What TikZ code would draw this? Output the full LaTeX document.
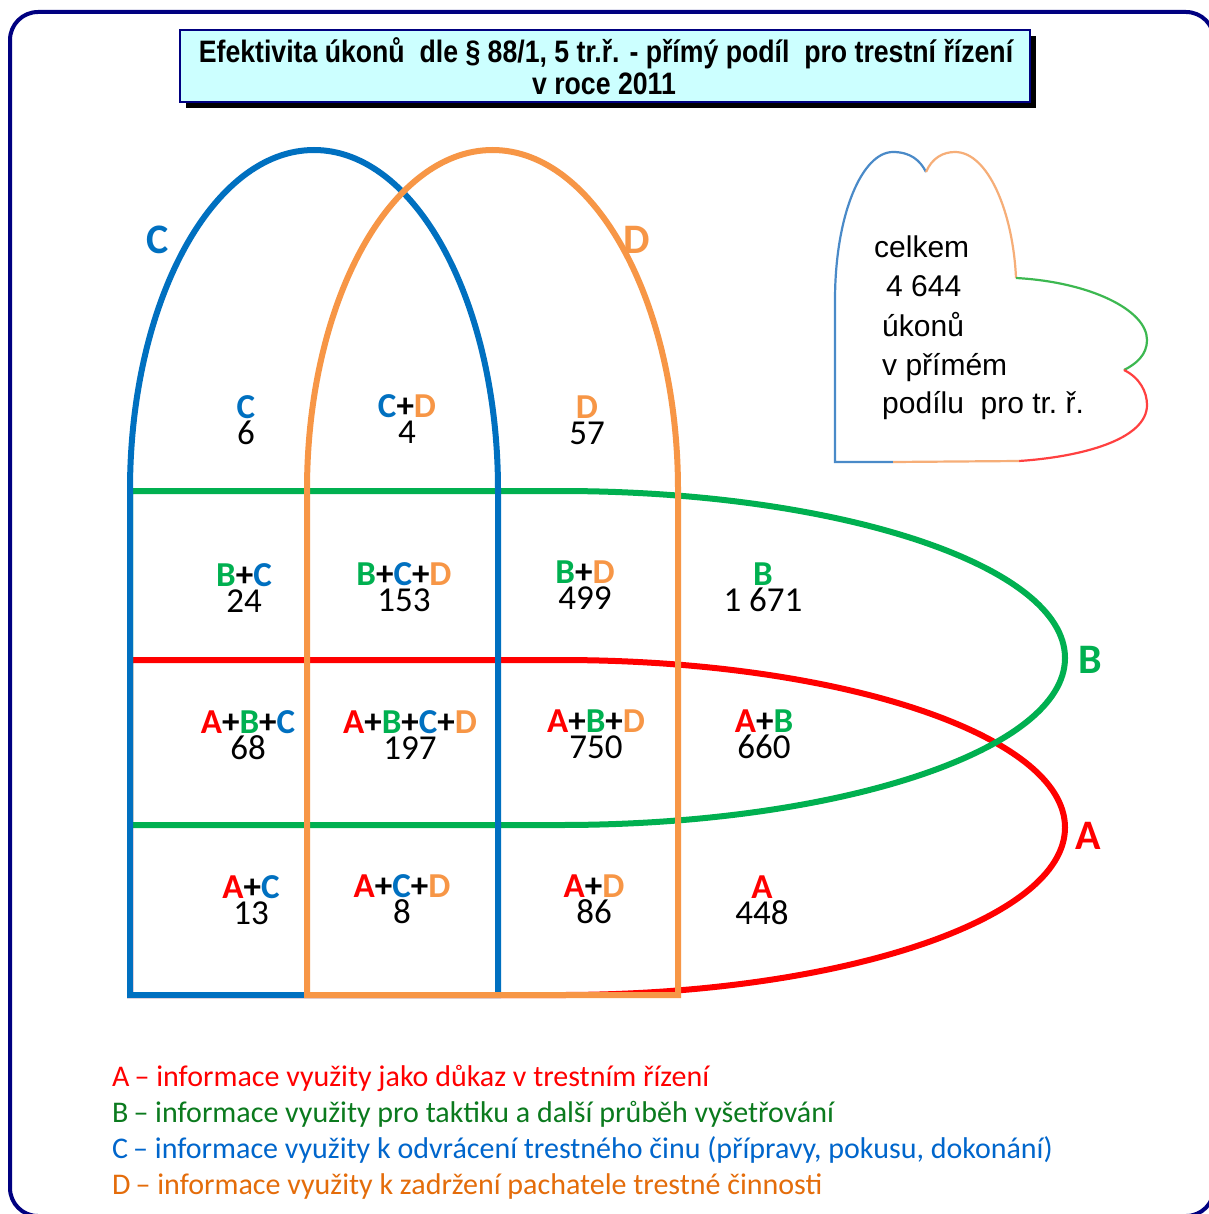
\documentclass[tikz,border=0pt]{standalone}
\usepackage{fontspec}
\setmainfont{Carlito}
\newfontfamily\titlefont[FakeStretch=0.86]{Liberation Sans}
\newfontfamily\heartfont{Liberation Sans}
\usetikzlibrary{shadows}
\definecolor{vA}{HTML}{FF0000}
\definecolor{vB}{HTML}{00B050}
\definecolor{vC}{HTML}{0070C0}
\definecolor{vD}{HTML}{F79646}
\definecolor{navy}{HTML}{000080}
\definecolor{titlefill}{HTML}{CCFFFF}
\definecolor{legB}{HTML}{0B7A1E}
\definecolor{legC}{HTML}{0066CC}
\definecolor{legD}{HTML}{E46C0A}
\definecolor{hB}{HTML}{4A8AC8}
\definecolor{hD}{HTML}{F6AE78}
\definecolor{hG}{HTML}{3CB850}
\definecolor{hR}{HTML}{FF4040}
\newcommand\lblA{\textcolor{vA}{A}}
\newcommand\lblB{\textcolor{vB}{B}}
\newcommand\lblC{\textcolor{vC}{C}}
\newcommand\lblD{\textcolor{vD}{D}}
\newcommand\regnum[1]{\\[-1pt]{\mdseries #1}}
\begin{document}
\begin{tikzpicture}[x=1pt,y=-1pt,
  venn/.style={line width=6pt, line join=miter},
  heartline/.style={line width=2.2pt},
  region/.style={anchor=center, inner sep=0pt, align=center, font=\fontsize{35}{27}\selectfont\bfseries},
  biglab/.style={anchor=center, inner sep=0pt, font=\fontsize{42}{42}\selectfont\bfseries},
  hearttext/.style={anchor=base west, inner sep=0pt, font=\heartfont\fontsize{30}{30}\selectfont},
  legend/.style={anchor=base west, inner sep=0pt, font=\fontsize{30}{30}\selectfont},
  titletext/.style={anchor=base, inner sep=0pt, font=\titlefont\fontsize{31}{31}\selectfont\bfseries}]
\useasboundingbox (0,0) rectangle (1208,1214);
\fill[white] (0,0) rectangle (1208,1214);
% outer frame
\draw[navy, line width=4pt, rounded corners=28pt] (10,12) rectangle (1214,1216);
% title
\node[draw=navy, line width=2pt, fill=titlefill, minimum width=850pt, minimum height=72pt,
      drop shadow={shadow xshift=6pt, shadow yshift=-6pt, fill=black, opacity=1},
      inner sep=0pt] (title) at (605,66) {};
\node[titletext] (title1) at (606,63)
  {Efektivita úkonů\ \ dle § 88/1, 5 tr.ř. - přímý podíl\ \ pro trestní řízení};
\node[titletext] (title2) at (604,95) {v roce 2011};
% Venn shapes
\draw[venn, vA] (130,660) -- (560,660) arc[start angle=90, end angle=-90, x radius=505pt, y radius=167.5pt] -- (130,995) -- cycle;
\draw[venn, vB] (130,491) -- (560,491) arc[start angle=90, end angle=-90, x radius=505pt, y radius=167pt] -- (130,825) -- cycle;
\draw[venn, vC] (130,995) -- (130,490) arc[start angle=180, end angle=0, x radius=184pt, y radius=340pt] -- (498,995) -- cycle;
\draw[venn, vD] (307,995) -- (307,490) arc[start angle=180, end angle=0, x radius=185.5pt, y radius=340pt] -- (678,995) -- cycle;
% big labels
\node[biglab, vC] (bigC) at (158,240) {C};
\node[biglab, vD] (bigD) at (637,240) {D};
\node[biglab, vB] (bigB) at (1090,660) {B};
\node[biglab, vA] (bigA) at (1088,836) {A};
% region labels
\node[region] (rC) at (246,420) {\lblC\regnum{6}};
\node[region] (rCD) at (407,419) {\lblC+\lblD\regnum{4}};
\node[region] (rD) at (587,420) {\lblD\regnum{57}};
\node[region] (rBC) at (244,588) {\lblB+\lblC\regnum{24}};
\node[region] (rBCD) at (404,587) {\lblB+\lblC+\lblD\regnum{153}};
\node[region] (rBD) at (585,585) {\lblB+\lblD\regnum{499}};
\node[region] (rB) at (763,587) {\lblB\regnum{1 671}};
\node[region] (rABC) at (248,735) {\lblA+\lblB+\lblC\regnum{68}};
\node[region] (rABCD) at (410,735) {\lblA+\lblB+\lblC+\lblD\regnum{197}};
\node[region] (rABD) at (596,734) {\lblA+\lblB+\lblD\regnum{750}};
\node[region] (rAB) at (764,734) {\lblA+\lblB\regnum{660}};
\node[region] (rAC) at (251,900) {\lblA+\lblC\regnum{13}};
\node[region] (rACD) at (402,899) {\lblA+\lblC+\lblD\regnum{8}};
\node[region] (rAD) at (594,899) {\lblA+\lblD\regnum{86}};
\node[region] (rA) at (762,900) {\lblA\regnum{448}};
% heart
\draw[heartline, hB] (893,462) -- (835,462) -- (835,300) .. controls (835,215) and (862,152) .. (893,152) .. controls (910,152) and (920,160) .. (926,172);
\draw[heartline, hD] (926,172) .. controls (932,158) and (943,152) .. (955,152) .. controls (988,152) and (1013,212) .. (1016,278);
\draw[heartline, hG] (1016,278) .. controls (1090,282) and (1147,310) .. (1147,340) .. controls (1147,355) and (1136,364) .. (1124,370);
\draw[heartline, hR] (1124,370) .. controls (1140,378) and (1147,392) .. (1147,405) .. controls (1147,440) and (1080,457) .. (1019,461);
\draw[heartline, hD] (1019,461) -- (893,462);
\node[hearttext] (h1) at (874,258) {celkem};
\node[hearttext] (h2) at (886,297) {4 644};
\node[hearttext] (h3) at (882,336) {úkonů};
\node[hearttext] (h4) at (882,375) {v přímém};
\node[hearttext] (h5) at (882,413) {podílu\ \ pro tr.\ ř.};
% legend
\node[legend, vA] (legA) at (112,1086) {A\,– informace využity jako důkaz v trestním řízení};
\node[legend, legB] (legBn) at (112,1122) {B\,– informace využity pro taktiku a další průběh vyšetřování};
\node[legend, legC] (legCn) at (112,1158) {C\,– informace využity k odvrácení trestného činu (přípravy, pokusu, dokonání)};
\node[legend, legD] (legDn) at (112,1194) {D\,– informace využity k zadržení pachatele trestné činnosti};
\end{tikzpicture}
\end{document}
